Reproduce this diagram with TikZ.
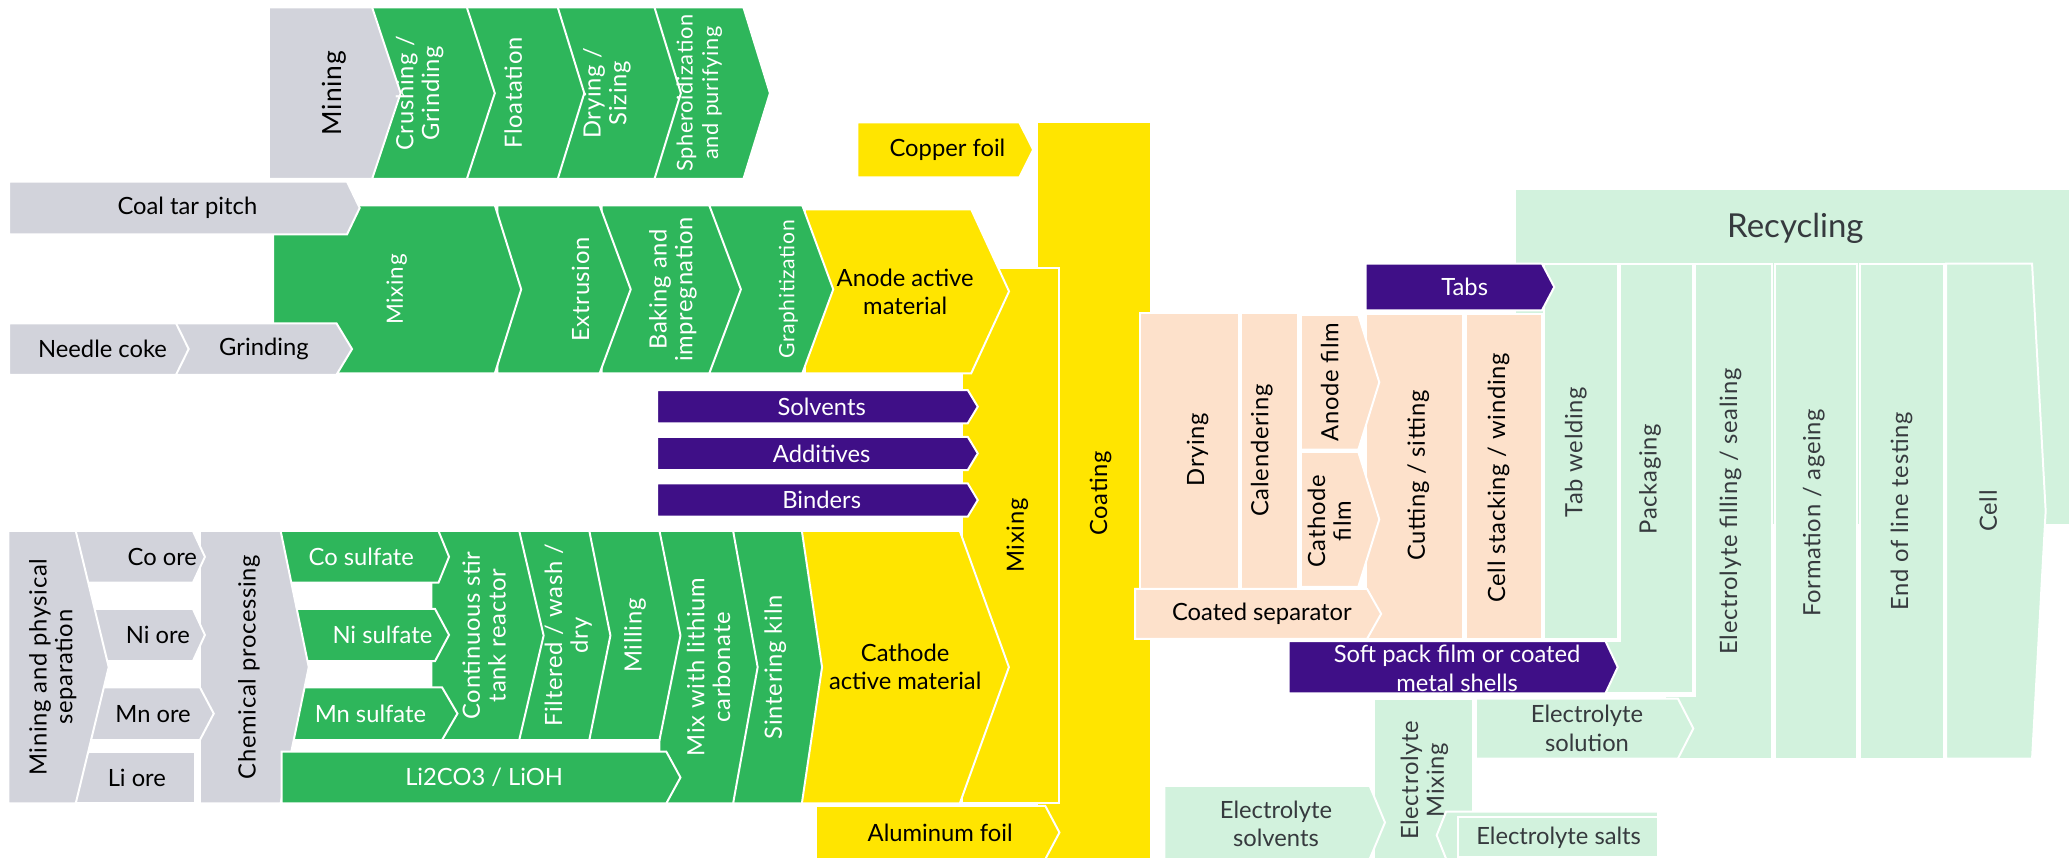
\documentclass[tikz,border=0pt]{standalone}
\usepackage{fontspec}
\setmainfont{Lato}
\definecolor{oregray}{HTML}{D2D3DB}
\definecolor{procgreen}{HTML}{2EB65B}
\definecolor{matyellow}{HTML}{FFE500}
\definecolor{addpurple}{HTML}{3F0F87}
\definecolor{cellpeach}{HTML}{FDE1CB}
\definecolor{packgreen}{HTML}{D2F2DD}
\definecolor{packtext}{HTML}{363A3E}
\tikzset{
  blk/.style={draw=white, line width=1.5pt},
  rawbox/.style={blk, fill=oregray},
  procbox/.style={blk, fill=procgreen},
  matbox/.style={blk, fill=matyellow},
  addbox/.style={blk, fill=addpurple},
  cellbox/.style={blk, fill=cellpeach},
  packbox/.style={blk, fill=packgreen},
  lbl/.style={inner sep=0pt, align=center, font=\fontsize{18}{21.5}\selectfont},
  vsize/.style={font=\fontsize{#1}{19.5}\selectfont\addfontfeatures{LetterSpace=3}},
  vlbl/.style={lbl, rotate=90, vsize=18},
}
\begin{document}
\begin{tikzpicture}[x=1pt, y=-1pt]
  \useasboundingbox (0,0) rectangle (1568,653);
  \path[procbox] (496,5.6) -- (563.4,5.6) -- (583.5,70.6) -- (563.4,135.6) -- (496,135.6) -- cycle;
  \path[procbox] (422.7,5.6) -- (496,5.6) -- (516,70.6) -- (496,135.6) -- (422.7,135.6) -- cycle;
  \path[procbox] (353.8,5.6) -- (422.7,5.6) -- (442.8,70.6) -- (422.7,135.6) -- (353.8,135.6) -- cycle;
  \path[procbox] (282,5.6) -- (353.8,5.6) -- (375,70.6) -- (353.8,135.6) -- (282,135.6) -- cycle;
  \path[rawbox] (203.8,5.6) -- (282,5.6) -- (303.6,70.6) -- (282,135.6) -- (203.8,135.6) -- cycle;
  \node[vlbl, vsize=20] (mine) at (253,70.6) {Mining};
  \node[vlbl, text=white] (crush) at (318,70.6) {Crushing /\\Grinding};
  \node[vlbl, text=white] (float) at (389,70.6) {Floatation};
  \node[vlbl, text=white] (drysize) at (460,70.6) {Drying /\\Sizing};
  \node[vlbl, text=white, vsize=16.5] (sphero) at (530,70.6) {Spheroidization\\and purifying};

  \path[matbox] (785.7,92.7) rectangle (872.3,651);
  \path[matbox] (649.7,92.7) -- (772.5,92.7) -- (783,113.5) -- (772.5,134.4) -- (649.7,134.4) -- cycle;
  \path[matbox] (729,203.4) rectangle (802.8,608.8);
  \path[matbox] (610,158.6) -- (736,158.6) -- (764.7,220.8) -- (736,283) -- (610,283) -- cycle;
  \path[procbox] (538,155.6) -- (608,155.6) -- (631.5,219.3) -- (608,283) -- (538,283) -- cycle;
  \path[procbox] (456,155.6) -- (537.5,155.6) -- (561.5,219.3) -- (537.5,283) -- (456,283) -- cycle;
  \path[procbox] (377,155.6) -- (454.4,155.6) -- (478,219.3) -- (454.4,283) -- (377,283) -- cycle;
  \path[procbox] (207,155.6) -- (375,155.6) -- (395,219.3) -- (375,283) -- (207,283) -- cycle;
  \path[rawbox] (7,137.7) -- (263,137.7) -- (272.6,157.6) -- (263,177.6) -- (7,177.6) -- cycle;
  \path[rawbox] (133.4,245) -- (255,245) -- (266.8,264.5) -- (255,284) -- (133.4,284) -- cycle;
  \path[rawbox] (7,245) -- (133.4,245) -- (143,264.5) -- (133.4,284) -- (7,284) -- cycle;
  \node[lbl] (copper) at (718,113.5) {Copper foil};
  \node[vlbl] (coat) at (834,374) {Coating};
  \node[vlbl] (elmix) at (771,406) {Mixing};
  \node[lbl] (anode) at (686,221) {Anode active\\material};
  \node[vlbl, text=white, vsize=16] (graph) at (597.5,219.3) {Graphitization};
  \node[vlbl, text=white] (bake) at (510,219.3) {Baking and\\impregnation};
  \node[vlbl, text=white] (extr) at (440,219.3) {Extrusion};
  \node[vlbl, text=white, vsize=17] (anmix) at (300.6,219.3) {Mixing};
  \node[lbl] (pitch) at (142,157.6) {Coal tar pitch};
  \node[lbl] (needle) at (77.7,264.5) {Needle coke};
  \node[lbl] (grind) at (200,264.5) {Grinding};

  \path[addbox] (498,295.6) -- (733.4,295.6) -- (741,308.2) -- (733.4,320.8) -- (498,320.8) -- cycle;
  \path[addbox] (498,331) -- (733.4,331) -- (741,343.6) -- (733.4,356.2) -- (498,356.2) -- cycle;
  \path[addbox] (498,366.3) -- (733.4,366.3) -- (741,379) -- (733.4,391.6) -- (498,391.6) -- cycle;
  \node[lbl, text=white] (solv) at (622.7,308.2) {Solvents};
  \node[lbl, text=white] (addit) at (622.7,343.6) {Additives};
  \node[lbl, text=white] (bind) at (622.7,379) {Binders};

  \path[matbox] (607.7,402.4) -- (727.4,402.4) -- (764.6,505.6) -- (727.4,608.8) -- (607.7,608.8) -- cycle;
  \path[procbox] (555.6,402.4) -- (607.7,402.4) -- (623,505.6) -- (607.7,608.8) -- (555.6,608.8) -- cycle;
  \path[procbox] (499.8,402.4) -- (555.6,402.4) -- (574.2,505.6) -- (555.6,608.8) -- (499.8,608.8) -- cycle;
  \path[procbox] (446.6,402.4) -- (499.8,402.4) -- (515.7,481.6) -- (499.8,560.8) -- (446.6,560.8) -- cycle;
  \path[procbox] (393.5,402.4) -- (446.6,402.4) -- (462.6,481.6) -- (446.6,560.8) -- (393.5,560.8) -- cycle;
  \path[procbox] (327,402.4) -- (393.5,402.4) -- (412,481.6) -- (393.5,560.8) -- (327,560.8) -- cycle;
  \path[procbox] (205,402.4) -- (332.3,402.4) -- (340.3,422) -- (332.3,441.6) -- (205,441.6) -- cycle;
  \path[procbox] (205,461.5) -- (329.7,461.5) -- (340.3,481.2) -- (329.7,501) -- (205,501) -- cycle;
  \path[procbox] (205,520.9) -- (335,520.9) -- (346.7,540.8) -- (335,560.8) -- (205,560.8) -- cycle;
  \path[rawbox] (151.5,402.4) -- (212.7,402.4) -- (234,505.6) -- (212.7,608.8) -- (151.5,608.8) -- cycle;
  \path[procbox] (213.5,569.7) -- (505,569.7) -- (515.7,589.2) -- (505,608.8) -- (213.5,608.8) -- cycle;
  \path[rawbox] (50,402.4) -- (146.2,402.4) -- (155.3,422) -- (146.2,441.6) -- (50,441.6) -- cycle;
  \path[rawbox] (50,461.5) -- (146.2,461.5) -- (155.3,481.2) -- (146.2,501) -- (50,501) -- cycle;
  \path[rawbox] (50,520.9) -- (151.5,520.9) -- (162,540.8) -- (151.5,560.8) -- (50,560.8) -- cycle;
  \path[rawbox] (50,569.7) rectangle (147.8,608.8);
  \path[rawbox] (6.4,402.4) -- (57.4,402.4) -- (82.4,505.6) -- (57.4,608.8) -- (6.4,608.8) -- cycle;
  \path[matbox] (618.4,610.8) -- (792.2,610.8) -- (802.9,630.9) -- (792.2,651) -- (618.4,651) -- cycle;
  \node[lbl] (cathode) at (686,505.6) {Cathode\\active material};
  \node[vlbl, text=white] (kiln) at (587.5,505.6) {Sintering kiln};
  \node[vlbl, text=white] (mixli) at (537,505.6) {Mix with lithium\\carbonate};
  \node[vlbl, text=white] (mill) at (481.2,481.6) {Milling};
  \node[vlbl, text=white] (filt) at (430.7,481.6) {Filtered / wash /\\dry};
  \node[vlbl, text=white] (cstr) at (366.9,481.6) {Continuous stir\\tank reactor};
  \node[lbl, text=white] (cosulf) at (273.8,422) {Co sulfate};
  \node[lbl, text=white] (nisulf) at (289.8,481.2) {Ni sulfate};
  \node[lbl, text=white] (mnsulf) at (280.7,540.8) {Mn sulfate};
  \node[lbl, text=white] (lithium) at (366.9,589.2) {Li2CO3 / LiOH};
  \node[vlbl] (chem) at (188.8,505.6) {Chemical processing};
  \node[lbl] (coore) at (123,422) {Co ore};
  \node[lbl] (niore) at (119.6,481.2) {Ni ore};
  \node[lbl] (mnore) at (116,540.8) {Mn ore};
  \node[lbl] (liore) at (103.7,589.2) {Li ore};
  \node[vlbl] (minesep) at (40,505.6) {Mining and physical\\separation};
  \node[lbl] (alu) at (712.5,630.9) {Aluminum foil};

  \path[packbox, draw=none] (1148.8,143.7) rectangle (1570,397);
  \path[packbox] (1474.8,199.7) -- (1540,199.7) -- (1550.3,387.3) -- (1540,574.9) -- (1474.8,574.9) -- cycle;
  \path[packbox] (1409.3,199.7) rectangle (1473,574.9);
  \path[packbox] (1345,199.7) rectangle (1407.4,574.9);
  \path[packbox] (1284.7,199.7) -- (1343.2,199.7) -- (1343.2,574.9) -- (1262,574.9) -- (1262,527.4) -- (1284.7,527.4) -- cycle;
  \path[packbox] (1228,199.7) -- (1283.3,199.7) -- (1283.3,525.4) -- (1205,525.4) -- (1205,485.9) -- (1228,485.9) -- cycle;
  \path[packbox] (1170,199.7) rectangle (1226.1,484.2);
  \path[addbox] (1035,199.7) -- (1168.5,199.7) -- (1177.9,217.5) -- (1168.5,235.3) -- (1035,235.3) -- cycle;
  \node[lbl, text=packtext, font=\fontsize{25}{28}\selectfont] (recyc) at (1360.6,172.7) {Recycling};
  \node[vlbl, text=packtext] (cellv) at (1506.7,387.3) {Cell};
  \node[vlbl, text=packtext] (eol) at (1441.1,387.6) {End of line testing};
  \node[vlbl, text=packtext] (form) at (1374.6,388.6) {Formation / ageing};
  \node[vlbl, text=packtext] (fill) at (1311.4,387.6) {Electrolyte filling / sealing};
  \node[vlbl, text=packtext] (packg) at (1250.5,363.2) {Packaging};
  \node[vlbl, text=packtext] (tabw) at (1194.3,342.5) {Tab welding};
  \node[lbl, text=white] (tabs) at (1110,217.5) {Tabs};

  \path[cellbox] (1035,237.6) rectangle (1109,484.2);
  \path[cellbox] (1110.9,237.6) rectangle (1168.5,484.2);
  \path[cellbox] (864,237) rectangle (939,446.3);
  \path[cellbox] (940.4,237) rectangle (983.5,446.3);
  \path[cellbox] (985.8,238.6) -- (1029.4,238.6) -- (1045.3,289.7) -- (1029.4,340.8) -- (985.8,340.8) -- cycle;
  \path[cellbox] (985.8,342.5) -- (1029.4,342.5) -- (1045.3,393.6) -- (1029.4,444.7) -- (985.8,444.7) -- cycle;
  \path[cellbox] (860.3,446.3) -- (1036,446.3) -- (1046.7,465.2) -- (1036,484.2) -- (860.3,484.2) -- cycle;
  \node[vlbl] (cut) at (1074.8,360.6) {Cutting / sitting};
  \node[vlbl] (stack) at (1135.7,362.2) {Cell stacking / winding};
  \node[vlbl] (dry) at (907.6,340.8) {Drying};
  \node[vlbl] (cal) at (956.3,341.5) {Calendering};
  \node[vlbl] (afilm) at (1007.8,289.7) {Anode film};
  \node[vlbl] (cfilm) at (1007.4,395) {Cathode\\film};
  \node[lbl] (sep) at (956.3,465.2) {Coated separator};

  \path[addbox] (976.5,485.9) -- (1216.7,485.9) -- (1226,505.6) -- (1216.7,525.4) -- (976.5,525.4) -- cycle;
  \node[lbl, text=white] (soft) at (1104.3,506.6) {Soft pack film or coated\\metal shells};

  \path[packbox] (1118.4,529.4) -- (1271.6,529.4) -- (1283.3,552.1) -- (1271.6,574.9) -- (1118.4,574.9) -- cycle;
  \path[packbox] (1041,530) rectangle (1116.4,651);
  \path[packbox] (882.5,595.6) -- (1038,595.6) -- (1049.6,623.3) -- (1038,651) -- (882.5,651) -- cycle;
  \path[packbox] (1096,615) -- (1256.5,615) -- (1256.5,651) -- (1096,651) -- (1088.8,633) -- cycle;
  \draw[blk] (1104.8,618.9) rectangle (1256.5,649.5);
  \node[lbl, text=packtext] (esol) at (1202.7,552.1) {Electrolyte\\solution};
  \node[vlbl, text=packtext] (emix) at (1079.5,591.4) {Electrolyte\\Mixing};
  \node[lbl, text=packtext] (esolv) at (967,624.4) {Electrolyte\\solvents};
  \node[lbl, text=packtext] (esalt) at (1181.2,635) {Electrolyte salts};
\end{tikzpicture}
\end{document}
